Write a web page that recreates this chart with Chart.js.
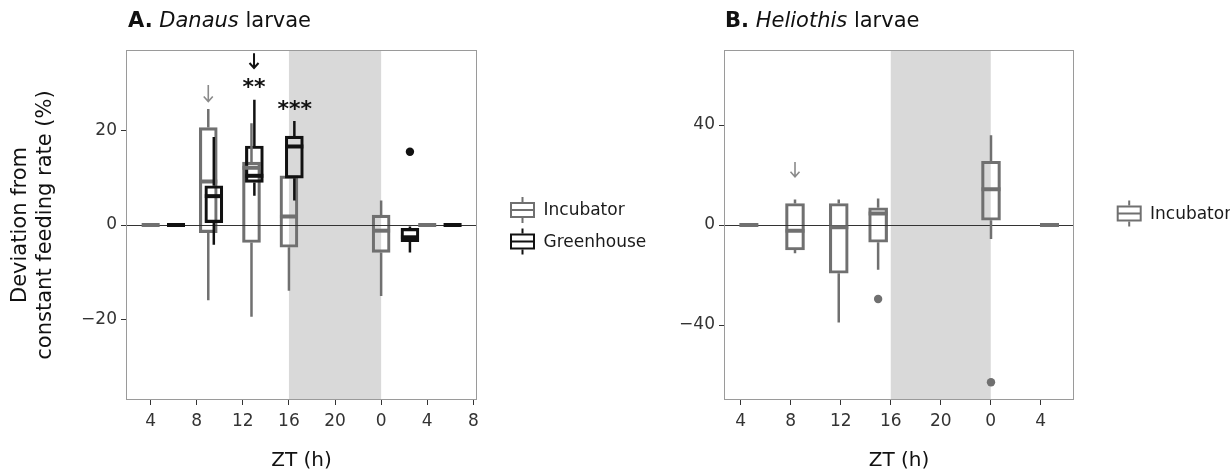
<!DOCTYPE html>
<html><head><meta charset="utf-8">
<script src="https://cdn.jsdelivr.net/npm/chart.js@4.4.1/dist/chart.umd.min.js"></script>
<style>
html,body{margin:0;padding:0;background:#fff;}
#wrap{position:relative;width:1230px;height:475px;overflow:hidden;font-family:"DejaVu Sans",sans-serif;}
.panel{position:absolute;top:0;height:475px;}
#pa{left:0;width:665px;}
#pb{left:665px;width:565px;}
.ttl{position:absolute;top:10px;font-size:21px;line-height:21px;color:#111;white-space:nowrap;}
</style></head><body>
<div id="wrap">
 <div class="panel" id="pa"><canvas id="ca"></canvas></div>
 <div class="panel" id="pb"><canvas id="cb"></canvas></div>
 <div class="ttl" style="left:128px"><b>A.</b> <i>Danaus</i> larvae</div>
 <div class="ttl" style="left:725px"><b>B.</b> <i>Heliothis</i> larvae</div>
</div>
<script>
// ---------- Panel A: Danaus larvae ----------
const aXTickPos = [4, 8, 12, 16, 20, 24, 28, 32];
const aXTickLabels = ['4', '8', '12', '16', '20', '0', '4', '8'];
const aYTicks = [-20, 0, 20];
const aDark = [16, 24];

const aIncPos  = [4, 9.0, 12.75, 16.0, 24.0, 28.0];
const aIncLow  = [0, -15.9, -19.4, -13.9, -15.0, 0];
const aIncQ1   = [0, -1.6, -3.7, -4.7, -5.8, 0];
const aIncMed  = [0, 9.2, 12.1, 1.8, -1.2, 0];
const aIncQ3   = [0, 20.6, 13.3, 10.4, 2.1, 0];
const aIncHigh = [0, 24.5, 21.5, 10.4, 5.2, 0];

const aGhPos  = [6.2, 9.48, 13.0, 16.47, 26.5, 30.2];
const aGhLow  = [0, -4.2, 6.2, 5.2, -5.8, 0];
const aGhQ1   = [0, 0.5, 9.0, 9.9, -3.5, 0];
const aGhMed  = [0, 6.1, 10.4, 16.6, -2.6, 0];
const aGhQ3   = [0, 8.3, 16.7, 18.8, -0.7, 0];
const aGhHigh = [0, 18.6, 26.5, 22.0, -0.3, 0];
const aGhOutX = [26.5];
const aGhOutY = [15.5];

const aArrowX = [9.0, 12.97];
const aArrowTop = [29.6, 36.3];
const aArrowBottom = [26.1, 33.2];
const aArrowGroup = ['Incubator', 'Greenhouse'];
const aStarX = [12.97, 16.5];
const aStarY = [30.0, 25.4];
const aStarText = ['**', '***'];

// ---------- Panel B: Heliothis larvae ----------
const bXTickPos = [4, 8, 12, 16, 20, 24, 28];
const bXTickLabels = ['4', '8', '12', '16', '20', '0', '4'];
const bYTicks = [-40, 0, 40];
const bDark = [16, 24];

const bIncPos  = [4.65, 8.34, 11.84, 14.99, 24.02, 28.7];
const bIncLow  = [0, -11.3, -39.0, -17.9, -5.6, 0];
const bIncQ1   = [0, -10.0, -19.3, -6.9, 1.9, 0];
const bIncMed  = [0, -2.3, -0.9, 4.6, 14.3, 0];
const bIncQ3   = [0, 8.6, 8.6, 6.9, 25.5, 0];
const bIncHigh = [0, 10.2, 10.2, 10.6, 35.9, 0];
const bIncOutX = [14.99, 24.02];
const bIncOutY = [-29.6, -62.9];

const bArrowX = [8.34];
const bArrowTop = [25.2];
const bArrowBottom = [19.3];
const bArrowGroup = ['Incubator'];

// ---------- styling ----------
const FONT = '"DejaVu Sans", sans-serif';
const COL = { Incubator: '#707070', Greenhouse: '#111111' };
const ARROWCOL = { Incubator: '#8a8a8a', Greenhouse: '#111111' };
Chart.defaults.font.family = FONT;
Chart.defaults.color = '#333';

function boxData(pos, q1, q3) { return pos.map((x, i) => ({ x: x, y: [q1[i], q3[i]] })); }
function ptData(xs, ys) { return xs.map((x, i) => ({ x: x, y: ys[i] })); }

function makePlugin(cfg) {
  return {
    id: 'boxExtras',
    beforeDatasetsDraw(chart) {
      const { ctx, chartArea: a, scales: { x } } = chart;
      ctx.save();
      ctx.fillStyle = '#d9d9d9';
      const x0 = x.getPixelForValue(cfg.dark[0]), x1 = x.getPixelForValue(cfg.dark[1]);
      ctx.fillRect(x0, a.top, x1 - x0, a.bottom - a.top);
      ctx.restore();
    },
    afterDatasetsDraw(chart) {
      const { ctx, chartArea: a, scales: { x, y } } = chart;
      ctx.save();
      // zero line
      ctx.strokeStyle = '#333'; ctx.lineWidth = 1;
      const y0 = Math.round(y.getPixelForValue(0)) + 0.5;
      ctx.beginPath(); ctx.moveTo(a.left, y0); ctx.lineTo(a.right, y0); ctx.stroke();
      // whiskers and medians
      cfg.groups.forEach(g => {
        const meta = chart.getDatasetMeta(g.ds);
        ctx.strokeStyle = COL[g.name];
        meta.data.forEach((el, j) => {
          const cx = el.x, half = el.width / 2;
          ctx.lineWidth = 2.5; ctx.lineCap = 'butt';
          ctx.beginPath();
          ctx.moveTo(cx, y.getPixelForValue(g.q3[j])); ctx.lineTo(cx, y.getPixelForValue(g.high[j]));
          ctx.moveTo(cx, y.getPixelForValue(g.q1[j])); ctx.lineTo(cx, y.getPixelForValue(g.low[j]));
          ctx.stroke();
          ctx.lineWidth = 4;
          const ym = y.getPixelForValue(g.med[j]);
          ctx.beginPath(); ctx.moveTo(cx - half, ym); ctx.lineTo(cx + half, ym); ctx.stroke();
        });
      });
      // arrows
      cfg.arrows.x.forEach((ax, i) => {
        const px = x.getPixelForValue(ax);
        const yt = y.getPixelForValue(cfg.arrows.top[i]), yb = y.getPixelForValue(cfg.arrows.bottom[i]);
        const grp = cfg.arrows.group[i];
        ctx.strokeStyle = ARROWCOL[grp]; ctx.lineWidth = grp === 'Greenhouse' ? 2 : 1.6;
        ctx.beginPath(); ctx.moveTo(px, yt); ctx.lineTo(px, yb);
        ctx.moveTo(px - 4.5, yb - 5); ctx.lineTo(px, yb); ctx.lineTo(px + 4.5, yb - 5);
        ctx.stroke();
      });
      // significance stars
      if (cfg.stars) {
        ctx.fillStyle = '#111'; ctx.font = 'bold 22px ' + FONT; ctx.textAlign = 'center'; ctx.textBaseline = 'alphabetic';
        cfg.stars.x.forEach((sx, i) => {
          const m = ctx.measureText(cfg.stars.text[i]);
          const cy = y.getPixelForValue(cfg.stars.y[i]);
          const base = cy + (m.actualBoundingBoxAscent - m.actualBoundingBoxDescent) / 2;
          ctx.fillText(cfg.stars.text[i], x.getPixelForValue(sx), base);
        });
      }
      // panel border
      ctx.strokeStyle = '#9a9a9a'; ctx.lineWidth = 1;
      ctx.strokeRect(Math.round(a.left) + 0.5, Math.round(a.top) + 0.5, Math.round(a.right - a.left) - 1, Math.round(a.bottom - a.top) - 1);
      ctx.restore();
    },
    afterDraw(chart) {
      const ctx = chart.ctx;
      const L = cfg.legend;
      ctx.save();
      L.items.forEach((name, i) => {
        const cy = L.rows[i];
        const c = COL[name];
        ctx.strokeStyle = c; ctx.lineWidth = 2;
        const bx = L.x, bw = 25, bh = 16;
        ctx.strokeRect(bx + 1, cy - bh / 2 + 1, bw - 2, bh - 2);
        ctx.beginPath();
        ctx.moveTo(bx + 1, cy); ctx.lineTo(bx + bw - 1, cy);
        ctx.moveTo(bx + bw / 2, cy - bh / 2); ctx.lineTo(bx + bw / 2, cy - bh / 2 - 5);
        ctx.moveTo(bx + bw / 2, cy + bh / 2); ctx.lineTo(bx + bw / 2, cy + bh / 2 + 5);
        ctx.stroke();
        ctx.fillStyle = '#1a1a1a'; ctx.font = '17px ' + FONT;
        ctx.textAlign = 'left'; ctx.textBaseline = 'middle';
        ctx.fillText(name, L.textX, cy + 1);
      });
      ctx.restore();
    }
  };
}

function makeOptions(p) {
  return {
    responsive: true, maintainAspectRatio: false, animation: false,
    layout: { padding: { top: 50, right: p.padRight, bottom: 0, left: 0 } },
    plugins: { legend: { display: false }, tooltip: { enabled: false }, title: { display: false } },
    scales: {
      x: {
        type: 'linear', min: p.xMin, max: p.xMax, offset: false,
        grid: { display: true, drawOnChartArea: false, drawTicks: true, tickLength: 5, color: '#333', offset: false },
        border: { display: false },
        afterBuildTicks: s => { s.ticks = p.xTickPos.map(v => ({ value: v })); },
        afterFit: s => { s.height = 75; },
        ticks: {
          font: { size: 17 }, color: '#333', padding: 6, maxRotation: 0, autoSkip: false,
          callback: v => { const k = p.xTickPos.indexOf(v); return k >= 0 ? p.xTickLabels[k] : ''; }
        },
        title: { display: true, text: 'ZT (h)', font: { size: 20 }, color: '#111', padding: { top: 0, bottom: 2 } }
      },
      y: {
        type: 'linear', min: p.yMin, max: p.yMax,
        grid: { display: true, drawOnChartArea: false, drawTicks: true, tickLength: 5, color: '#333' },
        border: { display: false },
        afterBuildTicks: s => { s.ticks = p.yTicks.map(v => ({ value: v })); },
        afterFit: s => { s.width = p.yWidth; },
        ticks: { font: { size: 17 }, color: '#333', padding: 4,
          callback: v => (v < 0 ? '\u2212' + Math.abs(v) : String(v)) },
        title: p.yTitle ? { display: true, text: p.yTitle, font: { size: 21 }, color: '#111', padding: { top: 8, bottom: 0 } } : { display: false }
      }
    }
  };
}

const barBase = { type: 'bar', grouped: false, borderSkipped: false, backgroundColor: 'rgba(0,0,0,0)', borderWidth: 2.5 };

// Chart A
new Chart(document.getElementById('ca'), {
  type: 'bar',
  data: {
    datasets: [
      Object.assign({}, barBase, { label: 'Greenhouse', data: boxData(aGhPos, aGhQ1, aGhQ3), borderColor: COL.Greenhouse, barThickness: 18, order: 1 }),
      Object.assign({}, barBase, { label: 'Incubator', data: boxData(aIncPos, aIncQ1, aIncQ3), borderColor: COL.Incubator, barThickness: 18, order: 2 }),
      { type: 'scatter', label: 'Greenhouse outliers', data: ptData(aGhOutX, aGhOutY), pointRadius: 4.2, pointBackgroundColor: COL.Greenhouse, pointBorderWidth: 0, order: 0 }
    ]
  },
  options: makeOptions({ padRight: 665 - 477, xMin: 1.86, xMax: 32.32, yMin: -37, yMax: 37, yWidth: 126,
    xTickPos: aXTickPos, xTickLabels: aXTickLabels, yTicks: aYTicks,
    yTitle: ['Deviation from', 'constant feeding rate (%)'] }),
  plugins: [makePlugin({
    dark: aDark,
    groups: [
      { ds: 1, name: 'Incubator', low: aIncLow, q1: aIncQ1, med: aIncMed, q3: aIncQ3, high: aIncHigh },
      { ds: 0, name: 'Greenhouse', low: aGhLow, q1: aGhQ1, med: aGhMed, q3: aGhQ3, high: aGhHigh }
    ],
    arrows: { x: aArrowX, top: aArrowTop, bottom: aArrowBottom, group: aArrowGroup },
    stars: { x: aStarX, y: aStarY, text: aStarText },
    legend: { items: ['Incubator', 'Greenhouse'], rows: [210, 241.5], x: 510, textX: 543.5 }
  })]
});

// Chart B
new Chart(document.getElementById('cb'), {
  type: 'bar',
  data: {
    datasets: [
      Object.assign({}, barBase, { label: 'Incubator', data: boxData(bIncPos, bIncQ1, bIncQ3), borderColor: COL.Incubator, barThickness: 19, order: 1 }),
      { type: 'scatter', label: 'Incubator outliers', data: ptData(bIncOutX, bIncOutY), pointRadius: 4.2, pointBackgroundColor: COL.Incubator, pointBorderWidth: 0, order: 0 }
    ]
  },
  options: makeOptions({ padRight: 1230 - 1074, xMin: 2.66, xMax: 30.66, yMin: -70, yMax: 70, yWidth: 724 - 665,
    xTickPos: bXTickPos, xTickLabels: bXTickLabels, yTicks: bYTicks, yTitle: null }),
  plugins: [makePlugin({
    dark: bDark,
    groups: [ { ds: 0, name: 'Incubator', low: bIncLow, q1: bIncQ1, med: bIncMed, q3: bIncQ3, high: bIncHigh } ],
    arrows: { x: bArrowX, top: bArrowTop, bottom: bArrowBottom, group: bArrowGroup },
    stars: null,
    legend: { items: ['Incubator'], rows: [213.5], x: 1116.7 - 665, textX: 1150 - 665 }
  })]
});
</script>
</body></html>
